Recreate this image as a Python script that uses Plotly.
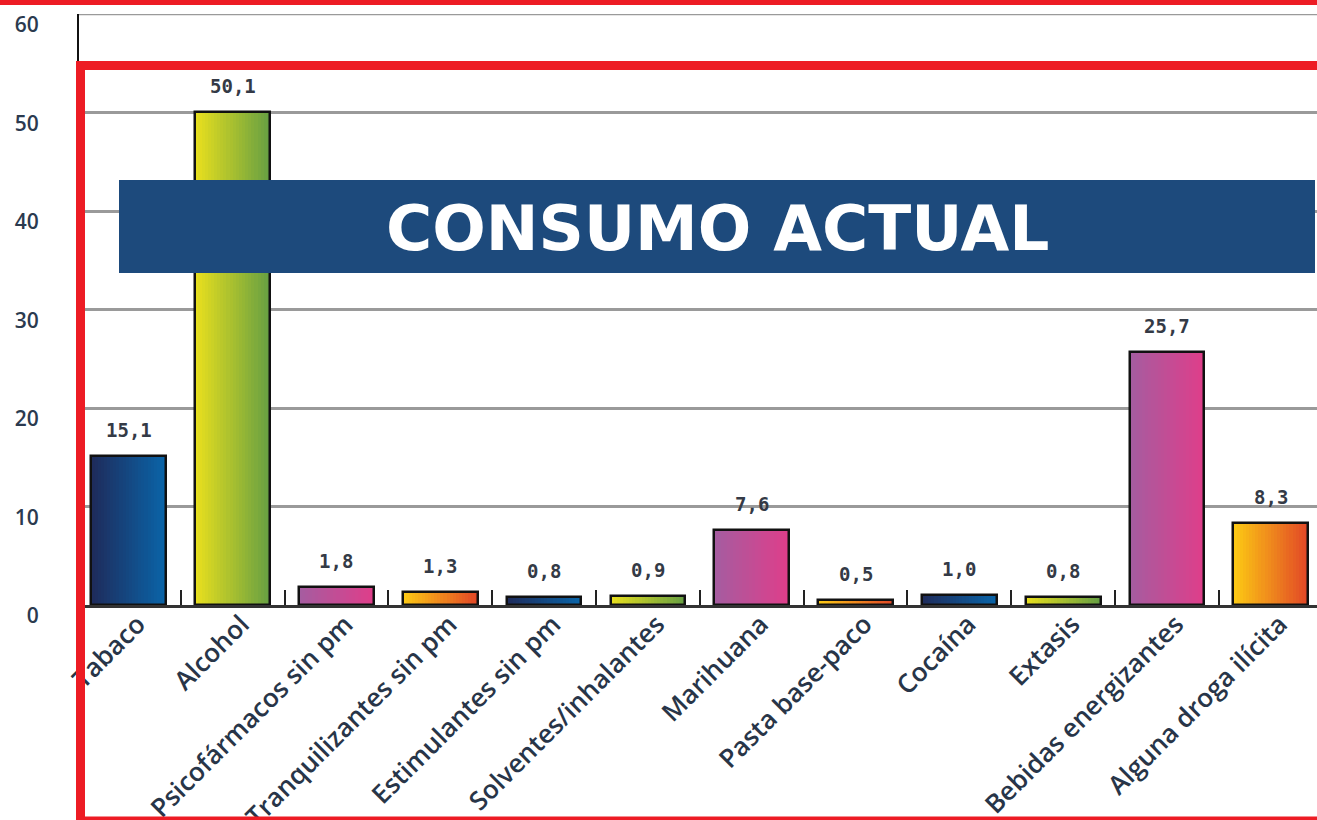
import plotly.graph_objects as go

# Consumo actual por sustancia (%)
categorias = [
    "Tabaco", "Alcohol", "Psicofármacos sin pm", "Tranquilizantes sin pm",
    "Estimulantes sin pm", "Solventes/inhalantes", "Marihuana", "Pasta base-paco",
    "Cocaína", "Extasis", "Bebidas energizantes", "Alguna droga ilícita",
]
valores = [15.1, 50.1, 1.8, 1.3, 0.8, 0.9, 7.6, 0.5, 1.0, 0.8, 25.7, 8.3]
etiquetas = ["15,1", "50,1", "1,8", "1,3", "0,8", "0,9", "7,6", "0,5", "1,0", "0,8", "25,7", "8,3"]
ticks_y = [0, 10, 20, 30, 40, 50, 60]

# Gradientes horizontales (izquierda -> derecha), en ciclo de cuatro
gradientes = [
    ((30, 44, 92), (10, 100, 168)),     # azul
    ((230, 222, 30), (104, 160, 66)),   # amarillo-verde
    ((166, 92, 160), (222, 62, 138)),   # violeta-rosa
    ((252, 200, 20), (226, 72, 38)),    # amarillo-naranja
]

W_PX, H_PX = 1317, 820
PLOT_L, PLOT_R, PLOT_T, PLOT_B = 79, 1317, 14, 605
Y_MAX = 60
ANCHO = 0.72
N_PASOS = 24


def mezcla(c0, c1, t):
    return "rgb(%d,%d,%d)" % tuple(round(a + (b - a) * t) for a, b in zip(c0, c1))


fig = go.Figure()

# Relleno en degradado: franjas superpuestas de izquierda a derecha
paso = ANCHO / N_PASOS
for i in range(N_PASOS):
    t = i / (N_PASOS - 1)
    colores = [mezcla(*gradientes[k % 4], t) for k in range(len(categorias))]
    fig.add_trace(go.Bar(
        x=categorias, y=valores,
        width=ANCHO - i * paso, offset=-ANCHO / 2 + i * paso,
        marker=dict(color=colores, line=dict(width=0)),
        hoverinfo="skip", showlegend=False,
    ))

# Contorno de las barras
fig.add_trace(go.Bar(
    x=categorias, y=valores, width=ANCHO, offset=-ANCHO / 2,
    marker=dict(color="rgba(0,0,0,0)", line=dict(color="#111111", width=2.5)),
    showlegend=False,
))

# Valores sobre cada barra
for cat, v, txt in zip(categorias, valores, etiquetas):
    fig.add_annotation(
        x=cat, y=v, text=txt, showarrow=False, yanchor="bottom", yshift=13,
        font=dict(family="DejaVu Sans Mono", size=19, color="#343a46", weight="bold"),
    )


def px_x(p):
    return (p - PLOT_L) / (PLOT_R - PLOT_L)


def px_y(p):
    return (PLOT_B - p) / (PLOT_B - PLOT_T)


shapes = [
    # línea de cuadrícula superior (borde del área de trazado)
    dict(type="line", xref="paper", yref="y", x0=0, x1=1, y0=Y_MAX, y1=Y_MAX,
         line=dict(color="#9a9a9a", width=2.5), layer="below"),
    # franja roja superior
    dict(type="rect", xref="paper", yref="paper",
         x0=px_x(-5), x1=px_x(W_PX + 5), y0=px_y(5), y1=px_y(-5),
         fillcolor="#ed1c24", line=dict(width=0), layer="above"),
    # marco rojo
    dict(type="rect", xref="paper", yref="paper",
         x0=px_x(80.5), x1=px_x(W_PX + 20), y0=px_y(821), y1=px_y(65.5),
         fillcolor="rgba(0,0,0,0)", line=dict(color="#ed1c24", width=9), layer="above"),
    # banda azul del título
    dict(type="rect", xref="paper", yref="paper",
         x0=px_x(119), x1=px_x(1315), y0=px_y(273), y1=px_y(180),
         fillcolor="#1d4a7c", line=dict(width=0), layer="above"),
]

fig.add_annotation(
    xref="paper", yref="paper", x=px_x(717), y=px_y(228),
    text="CONSUMO ACTUAL", showarrow=False, xanchor="center", yanchor="middle",
    font=dict(family="DejaVu Sans", size=63, color="white", weight="bold"),
)

fig.update_layout(
    width=W_PX, height=H_PX,
    margin=dict(l=PLOT_L, r=W_PX - PLOT_R, t=PLOT_T, b=H_PX - PLOT_B, pad=0, autoexpand=False),
    paper_bgcolor="white", plot_bgcolor="white",
    barmode="overlay", bargap=0,
    shapes=shapes,
    xaxis=dict(
        range=[-0.48, 11.445], tickangle=-45, tickson="boundaries",
        ticks="inside", ticklen=15, tickwidth=2, tickcolor="#222222",
        ticklabelshift=9, ticklabelstandoff=-9, automargin=False,
        showline=True, linecolor="#333333", linewidth=2.5,
        showgrid=False, zeroline=False,
        tickfont=dict(family="Open Sans", size=26, color="#283548", weight=600),
    ),
    yaxis=dict(
        range=[0, Y_MAX], tickvals=ticks_y, ticktext=[str(v) for v in ticks_y],
        ticks="", ticklabelshift=11, ticklabelstandoff=34, automargin=False,
        showline=True, linecolor="#111111", linewidth=2,
        showgrid=True, gridcolor="#9a9a9a", gridwidth=2.5, zeroline=False,
        tickfont=dict(family="Open Sans", size=21, color="#2b3a4f", weight=600),
    ),
)

fig.write_html("out.html")
